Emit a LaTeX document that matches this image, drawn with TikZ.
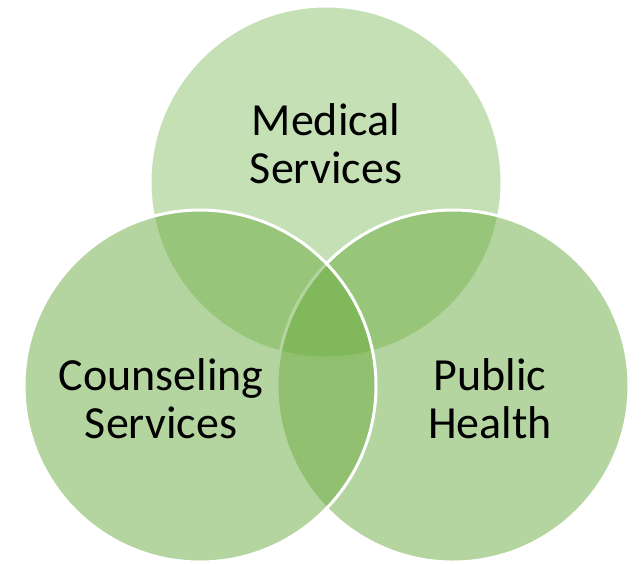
\documentclass[tikz,border=0pt]{standalone}
\usepackage{fontspec}
\setmainfont{Carlito}
\definecolor{topgreen}{RGB}{139,193,105}
\definecolor{sidegreen}{RGB}{107,171,65}
\begin{document}
\begin{tikzpicture}[x=1pt,y=-1pt,
  venn/.style={circle, minimum size=352pt, inner sep=0pt, draw=white, line width=3pt, fill opacity=0.5, draw opacity=1},
  lbl/.style={align=center, text=black, font=\fontsize{46}{48}\selectfont}]
\useasboundingbox (0,0) rectangle (644,563);
\node[venn, fill=topgreen] (med) at (326,182) {};
\node[venn, fill=sidegreen] (pub) at (453,386) {};
\node[venn, fill=sidegreen] (cou) at (200,386) {};
\node[lbl] (tmed) at (326,144) {Medical\\Services};
\node[lbl] (tcou) at (161,399) {Counseling\\Services};
\node[lbl] (tpub) at (490,399) {Public\\Health};
\end{tikzpicture}
\end{document}
